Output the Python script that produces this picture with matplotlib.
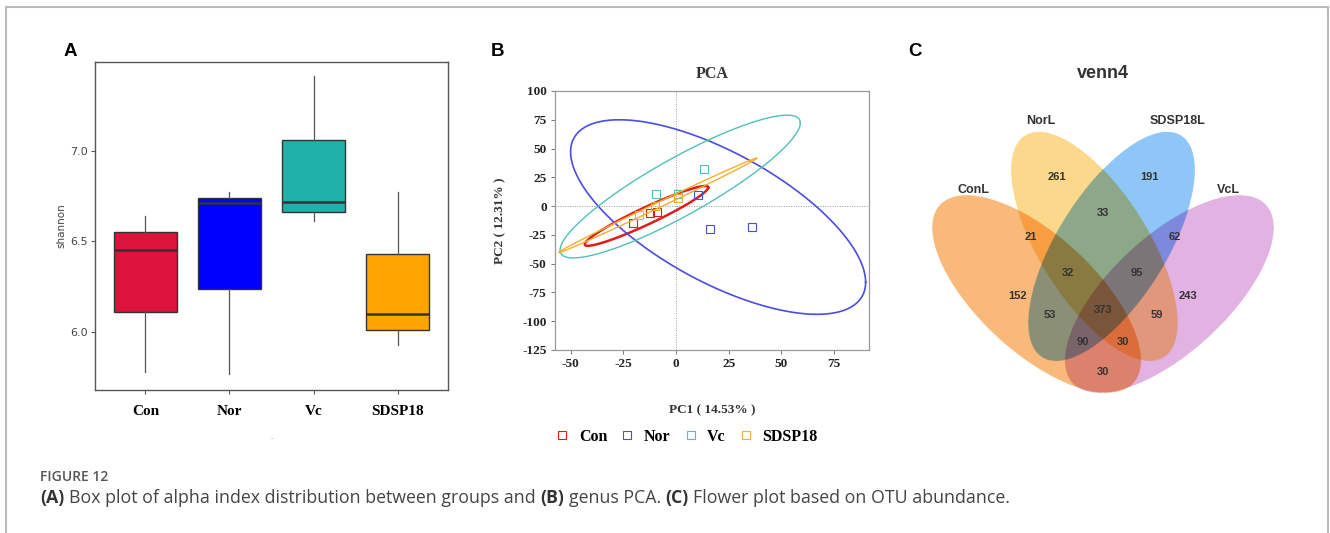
import matplotlib
matplotlib.use('Agg')
import matplotlib.pyplot as plt
import numpy as np
from matplotlib.lines import Line2D

plt.rcParams['axes.unicode_minus'] = False

# ---------------- data ----------------
groups = ['Con', 'Nor', 'Vc', 'SDSP18']
box_colors = ['#DC143C', '#0000FF', '#20B2AA', '#FFA500']
shannon_low = [5.78, 5.77, 6.61, 5.93]
shannon_q1 = [6.11, 6.24, 6.66, 6.01]
shannon_med = [6.45, 6.71, 6.72, 6.10]
shannon_q3 = [6.55, 6.74, 7.06, 6.43]
shannon_high = [6.64, 6.77, 7.41, 6.77]

pca_colors = ['#E31A1C', '#4B4BE6', '#4FC1B8', '#F6AE2D']
pc1 = [[-20.6, -12.5, -9.2], [10.3, 16.1, 36.2], [-9.4, 0.8, 13.3], [-17.5, -10.0, 0.8]]
pc2 = [[-14.5, -5.8, -5.2], [9.8, -20.0, -18.5], [10.7, 10.7, 32.1], [-8.0, 0.0, 7.2]]
# confidence ellipses: centre, spread in x / y, correlation
ell_cx = [-14.0, 20.0, 2.0, -8.7]
ell_cy = [-8.5, -9.5, 17.0, 0.6]
ell_sx = [29.3, 70.0, 57.0, 47.0]
ell_sy = [26.0, 84.5, 62.0, 41.0]
ell_r = [0.95, -0.67, 0.89, 0.998]
ell_lw = [1.8, 1.2, 1.0, 1.0]

venn_sets = ['ConL', 'NorL', 'SDSP18L', 'VcL']
venn_colors = ['#F9B97A', '#FDD98C', '#8EC6F8', '#E2B2E2']
region_keys = ['C', 'N', 'S', 'V', 'CN', 'CS', 'CV', 'NS', 'NV', 'SV',
               'CNS', 'CSV', 'CNV', 'NSV', 'CNSV']
region_counts = [152, 261, 191, 243, 21, 53, 30, 33, 59, 62, 32, 90, 30, 95, 373]

# ---------------- figure ----------------
W, H = 1330, 533
fig = plt.figure(figsize=(W / 100, H / 100), dpi=100)
SERIF = 'Liberation Serif'
SANS = 'Liberation Sans'


def fx(px):
    return px / W


def fy(py):
    return 1 - py / H


def pax(l, t, r, b):
    return fig.add_axes([fx(l), fy(b), (r - l) / W, (b - t) / H])


# outer frame (left, top, right)
for xs, ys in [([6, 6], [533, 7]), ([6, 1328], [7, 7]), ([1328, 1328], [7, 533])]:
    fig.add_artist(Line2D([fx(v) for v in xs], [fy(v) for v in ys],
                          transform=fig.transFigure, color='#BBBBBB', lw=1.5))

# ============ A: box plot ============
axA = pax(95, 62, 448, 390)
stats = []
for i, g in enumerate(groups):
    stats.append(dict(label=g, whislo=shannon_low[i], q1=shannon_q1[i], med=shannon_med[i],
                      q3=shannon_q3[i], whishi=shannon_high[i], fliers=[]))
bp = axA.bxp(stats, positions=range(1, 5), widths=0.75, patch_artist=True, showcaps=False,
             boxprops=dict(edgecolor='#333333', linewidth=1.0),
             medianprops=dict(color='#333333', linewidth=1.8),
             whiskerprops=dict(color='#555555', linewidth=0.9))
for patch, c in zip(bp['boxes'], box_colors):
    patch.set_facecolor(c)
axA.set_xlim(0.4, 4.6)
axA.set_ylim(5.68, 7.49)
axA.set_yticks([6.0, 6.5, 7.0])
axA.set_yticklabels(['6.0', '6.5', '7.0'])
for s in axA.spines.values():
    s.set_color('#555555')
    s.set_linewidth(1.0)
axA.tick_params(axis='y', length=3, width=0.8, color='#555555', labelsize=8,
                labelcolor='#444444', pad=2)
axA.tick_params(axis='x', length=3, width=0.8, color='#555555', pad=8)
for lab in axA.get_xticklabels():
    lab.set_fontfamily(SERIF)
    lab.set_fontweight('bold')
    lab.set_fontsize(11)
axA.set_ylabel('shannon', fontsize=7.5, color='#444444', labelpad=3)
axA.set_xlabel('-', fontsize=5, color='#999999', labelpad=12)
fig.text(fx(70), fy(52), 'A', fontsize=13.5, fontweight='bold', family=SANS,
         ha='center', va='center')

# ============ B: PCA ============
axB = pax(555, 91, 869, 350)
axB.set_xlim(-57.4, 91.6)
axB.set_ylim(-125, 100)
axB.axhline(0, color='#999999', lw=0.7, ls=(0, (1, 1.5)), zorder=0)
axB.axvline(0, color='#999999', lw=0.7, ls=(0, (1, 1.5)), zorder=0)
t = np.linspace(0, 2 * np.pi, 400)
handles = []
for i, g in enumerate(groups):
    ex = ell_cx[i] + ell_sx[i] * np.cos(t)
    ey = ell_cy[i] + ell_sy[i] * (ell_r[i] * np.cos(t) + np.sqrt(1 - ell_r[i] ** 2) * np.sin(t))
    axB.plot(ex, ey, color=pca_colors[i], lw=ell_lw[i])
    h, = axB.plot(pc1[i], pc2[i], ls='none', marker='s', ms=6, mfc='none',
                  mec=pca_colors[i], mew=0.8, label=g)
    handles.append(h)
axB.set_xticks([-50, -25, 0, 25, 50, 75])
axB.set_yticks(np.arange(-125, 101, 25))
for s in axB.spines.values():
    s.set_color('#999999')
    s.set_linewidth(0.9)
axB.tick_params(length=3, width=0.7, color='#777777', labelsize=9.5, pad=3, labelcolor='#222222')
for lab in axB.get_xticklabels() + axB.get_yticklabels():
    lab.set_fontfamily(SERIF)
    lab.set_fontweight('bold')
axB.set_title('PCA', fontsize=11.5, fontweight='bold', family=SERIF, color='#333333', pad=9)
axB.set_xlabel('PC1 ( 14.53% )', fontsize=9.5, fontweight='bold', family=SERIF, color='#333333')
axB.set_ylabel('PC2 ( 12.31% )', fontsize=9.5, fontweight='bold', family=SERIF, color='#333333')
axB.xaxis.set_label_coords(0.5, (350 - 410) / 259)
axB.xaxis.label.set_va('center')
axB.yaxis.set_label_coords((500 - 555) / 314, 0.5)
axB.yaxis.label.set_va('center')
leg = axB.legend(handles=handles, loc='center', bbox_to_anchor=((686 - 555) / 314, -(437 - 350) / 259),
                 ncol=4, frameon=False, handlelength=1.0, handletextpad=0.55, columnspacing=0.75,
                 prop=dict(family=SERIF, weight='bold', size=11.5))
fig.text(fx(497), fy(52), 'B', fontsize=13.5, fontweight='bold', family=SANS,
         ha='center', va='center')

# ============ C: venn (multiplied colours) ============
axC = pax(900, 40, 1320, 440)
axC.set_xlim(900, 1320)
axC.set_ylim(440, 40)
axC.axis('off')
venn_cx = [1036.5, 1094.3, 1111.7, 1169.5]
venn_cy = [294.0, 246.3, 246.3, 294.0]
venn_hx = [104.5, 83.4, 83.4, 104.5]
venn_hy = [99.0, 114.7, 114.7, 99.0]
venn_r = [0.67, 0.666, -0.666, -0.67]
gx = np.linspace(900, 1320, 420 * 4)
gy = np.linspace(40, 440, 400 * 4)
GX, GY = np.meshgrid(gx, gy)
img = np.ones((len(gy), len(gx), 4))
inside_any = np.zeros(GX.shape, bool)
for i in range(4):
    sxx, syy = venn_hx[i] ** 2, venn_hy[i] ** 2
    sxy = venn_r[i] * venn_hx[i] * venn_hy[i]
    det = sxx * syy - sxy ** 2
    dx, dy = GX - venn_cx[i], GY - venn_cy[i]
    m = (syy * dx ** 2 - 2 * sxy * dx * dy + sxx * dy ** 2) / det <= 1
    rgb = np.array(matplotlib.colors.to_rgb(venn_colors[i]))
    img[m, :3] *= rgb
    inside_any |= m
img[..., 3] = inside_any
axC.imshow(img, extent=(900, 1320, 440, 40), origin='upper', interpolation='antialiased',
           interpolation_stage='rgba', aspect='auto', zorder=1)
region_pos = {'C': (1018, 296), 'N': (1057, 177), 'S': (1149, 177), 'V': (1188, 296),
              'CN': (1031, 237), 'CS': (1050, 315), 'CV': (1103, 372), 'NS': (1103, 213),
              'NV': (1157, 315), 'SV': (1175, 237), 'CNS': (1068, 273), 'CSV': (1083, 342),
              'CNV': (1123, 342), 'NSV': (1137, 273), 'CNSV': (1103, 310)}
for k, n in zip(region_keys, region_counts):
    x, y = region_pos[k]
    axC.text(x, y, str(n), fontsize=8, fontweight='bold', family=SANS, color='#333333',
             ha='center', va='center', zorder=3)
label_pos = [(973, 190), (1041, 121), (1178, 121), (1228, 190)]
for name, (x, y) in zip(venn_sets, label_pos):
    axC.text(x, y, name, fontsize=9, fontweight='bold', family=SANS, color='#333333',
             ha='center', va='center')
axC.text(1103, 74, 'venn4', fontsize=13, fontweight='bold', family=SANS, color='#333333',
         ha='center', va='center')
fig.text(fx(915), fy(52), 'C', fontsize=13.5, fontweight='bold', family=SANS,
         ha='center', va='center')

# ============ caption ============
fig.text(fx(40), fy(477), 'FIGURE 12', fontsize=10, fontweight='semibold', family='Open Sans',
         color='#555555', va='center')
renderer = fig.canvas.get_renderer()
pieces = [('(A)', 'bold'), ('Box plot of alpha index distribution between groups and', 'normal'),
          ('(B)', 'bold'), ('genus PCA.', 'normal'), ('(C)', 'bold'),
          ('Flower plot based on OTU abundance.', 'normal')]
probe1 = fig.text(0, 0, 'x x', fontsize=12.8, family='Open Sans')
probe2 = fig.text(0, 0, 'xx', fontsize=12.8, family='Open Sans')
space = probe1.get_window_extent(renderer).width - probe2.get_window_extent(renderer).width
probe1.remove()
probe2.remove()
x = 40
for s, w in pieces:
    tx = fig.text(fx(x), fy(498), s, fontsize=12.8, fontweight=w, family='Open Sans',
                  color='#333333' if w == 'bold' else '#444444', va='center')
    x = tx.get_window_extent(renderer).x1 + space

fig.savefig('out.png', dpi=100, facecolor='white')
